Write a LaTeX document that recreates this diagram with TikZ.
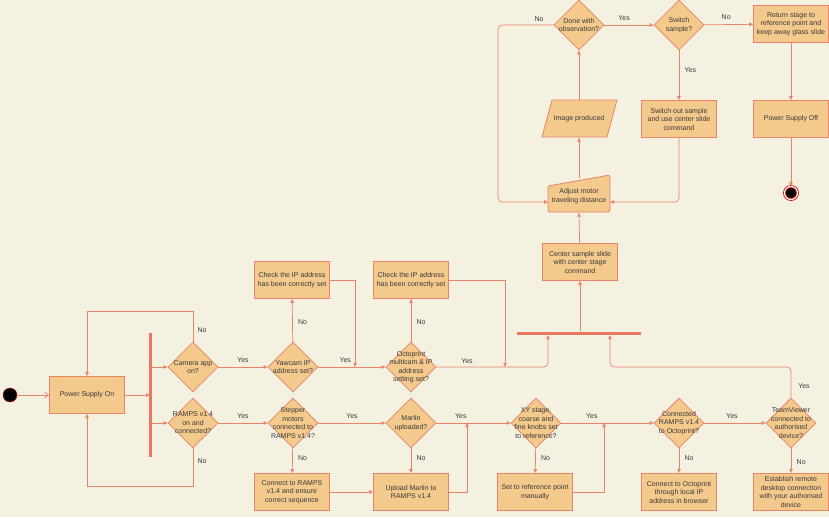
\documentclass[tikz,border=0pt]{standalone}
\usepackage{fontspec}
\setmainfont{Liberation Sans}
\usetikzlibrary{shapes.geometric,arrows.meta}
\definecolor{bg}{HTML}{F5F1E0}
\definecolor{fillc}{HTML}{F3C98C}
\definecolor{strk}{HTML}{E8846A}
\definecolor{txt}{HTML}{3A3A3A}
\begin{document}
\begin{tikzpicture}[x=1pt,y=-1pt,
  every node/.style={text=txt,font=\fontsize{7}{8.5}\selectfont},
  box/.style={draw=strk,fill=fillc,line width=0.8pt,minimum width=75pt,minimum height=37pt,align=center,inner sep=1pt},
  dia/.style={draw=strk,fill=fillc,line width=0.8pt,diamond,minimum width=50pt,minimum height=50pt,inner sep=0pt},
  dl/.style={label={[text=txt,font=\fontsize{7}{8.5}\selectfont,align=center]center:#1}},
  ar/.style={draw=strk,line width=0.7pt,-{Triangle[length=4pt,width=3.5pt]}},
  ln/.style={draw=strk,line width=0.7pt},
  lab/.style={font=\fontsize{7}{8.5}\selectfont},
  bar/.style={draw=strk!90!red,line width=3pt}]
\useasboundingbox (0,0) rectangle (829,517);
\fill[bg] (0,0) rectangle (829,517);
% nodes
\node[circle,fill=black,draw=red!80!black,minimum size=14pt,inner sep=0] (st) at (10,395) {};
\node[box] (pso) at (87,395) {Power Supply On};
\coordinate (b1t) at (150,333); \coordinate (b1b) at (150,457);
\draw[bar] (b1t) -- (b1b);
\node[dia,dl={Camera app\\on?}] (cam) at (193,367) {};
\node[dia,dl={RAMPS v1.4\\on and\\connected?}] (ramps) at (193,423) {};
\node[dia,dl={Yawcam IP\\address set?}] (yaw) at (293,367) {};
\node[dia,dl={Stepper\\motors\\connected to\\RAMPS v1.4?}] (step) at (293,423) {};
\node[box] (ip1) at (292,280) {Check the IP address\\has been correctly set};
\node[dia,dl={Octoprint\\multicam \& IP\\address\\setting set?}] (oct) at (411,367) {};
\node[dia,dl={Marlin\\uploaded?}] (mar) at (411,423) {};
\node[box] (ip2) at (411,280) {Check the IP address\\has been correctly set};
\node[box] (conr) at (292,492) {Connect to RAMPS\\v1.4 and ensure\\correct sequence};
\node[box] (upm) at (411,492) {Upload Marlin to\\RAMPS v1.4};
\coordinate (b2l) at (517,333); \coordinate (b2r) at (641,333);
\draw[bar] (b2l) -- (b2r);
\node[box] (csl) at (580,262) {Center sample slide\\with center stage\\command};
\node[dia,dl={XY stage,\\coarse and\\fine knobs set\\to reference?}] (xy) at (536,423) {};
\node[box] (sref) at (535,492) {Set to reference point\\manually};
\node[dia,dl={Connected\\RAMPS v1.4\\to Octoprint?}] (cro) at (679,423) {};
\node[box] (coct) at (679,492) {Connect to Octoprint\\through local IP\\address in browser};
\node[dia,dl={TeamViewer\\connected to\\authorised\\device?}] (tv) at (791,423) {};
\node[box] (est) at (791,492) {Establish remote\\desktop connection\\with your authorised\\device};
% manual input
\node[minimum width=62pt,minimum height=37pt,inner sep=0] (adj) at (579,194) {};
\draw[strk,fill=fillc,line width=0.8pt,rounded corners=1.5pt] (548,186) -- (610,175) -- (610,212) -- (548,212) -- cycle;
\node[align=center] (adjt) at (579,196) {Adjust motor\\traveling distance};
% parallelogram
\node[minimum width=75pt,minimum height=37pt,inner sep=0] (img) at (579,119) {};
\draw[strk,fill=fillc,line width=0.8pt] (552,100) -- (617,100) -- (607,137) -- (542,137) -- cycle;
\node (imgt) at (579,119) {Image produced};
\node[dia,dl={Done with\\observation?}] (done) at (579,25) {};
\node[dia,dl={Switch\\sample?}] (sw) at (679,25) {};
\node[box] (ret) at (791,24) {Return stage to\\reference point and\\keep away glass slide};
\node[box] (swo) at (679,119) {Switch out sample\\and use center slide\\command};
\node[box] (pof) at (791,119) {Power Supply Off};
\node[circle,fill=black,draw=red!85!black,line width=0.8pt,double=white,double distance=1.2pt,minimum size=13pt,inner sep=0] (en) at (791,193) {};
% edges
\draw[draw=strk,line width=0.7pt,-{Straight Barb[length=4pt,width=6pt]}] (st) -- (pso);
\draw[ar] (pso) -- (pso.east -| b1t);
\draw[ar] (cam.west -| b1t) -- (cam);
\draw[ar] (ramps.west -| b1t) -- (ramps);
\draw[ar] (cam.north) -- (193,311) -- (87,311) -- (pso.north);
\node[lab] at (202,330) {No};
\draw[ar] (ramps.south) -- (193,486) -- (87,486) -- (pso.south);
\node[lab] at (202,461) {No};
\draw[ar] (cam) -- (yaw) node[lab,midway,above=1pt] {Yes};
\draw[ar] (ramps) -- (step) node[lab,midway,above=1pt] {Yes};
\draw[ar] (yaw) -- (ip1) node[lab,pos=0.45,right=2pt] {No};
\coordinate (j1) at (355,367);
\draw[ar] (ip1.east) -| (j1);
\draw[ar] (yaw) -- (oct) node[lab,pos=0.4,above=1pt] {Yes};
\draw[ar] (step) -- (mar) node[lab,midway,above=1pt] {Yes};
\draw[ar] (step) -- (conr) node[lab,pos=0.4,right=2pt] {No};
\draw[ar] (conr) -- (upm);
\draw[ar] (oct) -- (ip2) node[lab,pos=0.45,right=2pt] {No};
\coordinate (j2) at (505,367);
\draw[ar] (ip2.east) -| (j2);
\draw[ar,rounded corners=4pt] (oct.east) -- (548,367) -- (548,335);
\node[lab] at (467,361) {Yes};
\draw[ar] (mar) -- (xy) node[lab,pos=0.33,above=1pt] {Yes};
\draw[ar] (mar) -- (upm) node[lab,pos=0.4,right=2pt] {No};
\coordinate (j3) at (467,423);
\draw[ar] (upm.east) -| (j3);
\draw[ar] (xy) -- (cro) node[lab,pos=0.33,above=1pt] {Yes};
\draw[ar] (xy) -- (sref) node[lab,pos=0.4,right=2pt] {No};
\coordinate (j4) at (604,423);
\draw[ar] (sref.east) -| (j4);
\draw[ar] (cro) -- (tv) node[lab,pos=0.45,above=1pt] {Yes};
\draw[ar] (cro) -- (coct) node[lab,pos=0.4,right=2pt] {No};
\draw[ar,rounded corners=4pt] (tv.north) -- (791,367) -- (610,367) -- (610,335);
\node[lab] at (804,386) {Yes};
\draw[ar] (tv) -- (est) node[lab,pos=0.55,right=2pt] {No};
\draw[ar] (580,331) -- (csl.south);
\draw[ar] (csl) -- (adj.south);
\draw[ar] (579,178) -- (img.south);
\draw[ar] (img) -- (done);
\draw[ar,rounded corners=4pt] (done.west) -- (498,25) -- (498,202) -- (548,202);
\node[lab] at (539,19) {No};
\draw[ar] (done) -- (sw) node[lab,pos=0.4,above=1pt] {Yes};
\draw[ar] (sw) -- (ret) node[lab,pos=0.45,above=1pt] {No};
\draw[ar] (sw) -- (swo) node[lab,pos=0.4,right=2pt] {Yes};
\draw[ar,rounded corners=4pt] (swo.south) -- (679,202) -- (610,202);
\draw[ar] (ret) -- (pof);
\draw[ar] (pof) -- (en);
\end{tikzpicture}
\end{document}
